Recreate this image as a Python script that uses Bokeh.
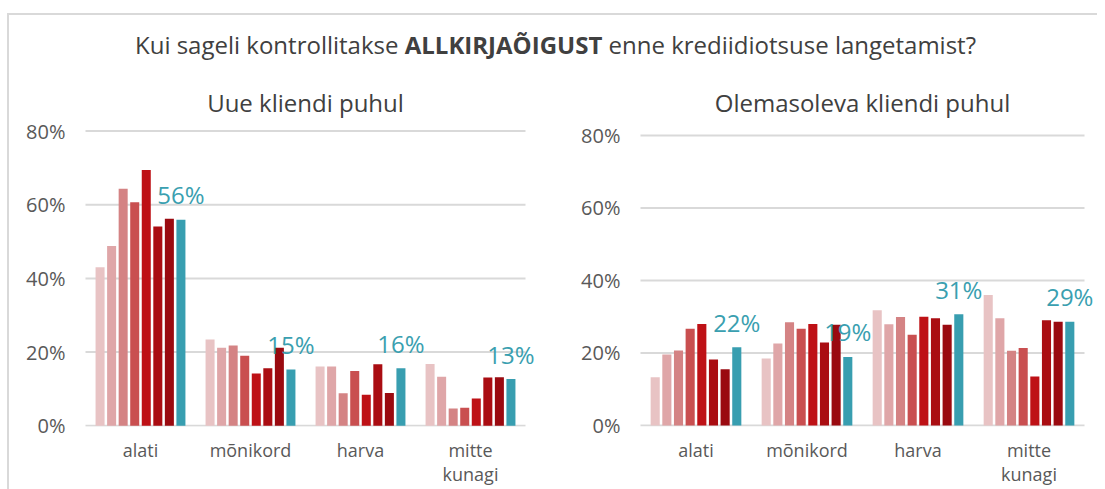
from bokeh.plotting import figure
from bokeh.models import (ColumnDataSource, Range1d, LabelSet, Div,
                          FixedTicker, PrintfTickFormatter)
from bokeh.core.properties import value
from bokeh.layouts import column, row
from bokeh.embed import file_html
from bokeh.resources import INLINE

FONT = "Open Sans"

categories = ["alati", "mõnikord", "harva", "mitte\nkunagi"]
series = ["s1", "s2", "s3", "s4", "s5", "s6", "s7", "s8"]
colors = ["#E8C3C4", "#DFA6A8", "#D48384", "#C94F50", "#BE1116", "#AA0D12", "#9A0A10", "#389EB0"]

# Uue kliendi puhul (values per category, series s1..s8)
uue_alati = [43.0, 48.8, 64.3, 60.7, 69.4, 54.1, 56.2, 55.9]
uue_monikord = [23.4, 21.2, 21.8, 19.0, 14.2, 15.6, 21.2, 15.3]
uue_harva = [16.1, 16.1, 8.8, 14.9, 8.4, 16.7, 8.9, 15.6]
uue_mitte = [16.8, 13.3, 4.7, 4.9, 7.4, 13.1, 13.2, 12.7]

# Olemasoleva kliendi puhul
ole_alati = [13.3, 19.6, 20.7, 26.7, 28.0, 18.2, 15.5, 21.6]
ole_monikord = [18.5, 22.6, 28.5, 26.7, 28.0, 22.9, 27.8, 18.9]
ole_harva = [31.8, 27.9, 29.9, 25.0, 30.0, 29.6, 27.8, 30.7]
ole_mitte = [36.0, 29.6, 20.6, 21.4, 13.5, 29.0, 28.6, 28.6]

y_ticks = [0, 20, 40, 60, 80]

HEADER_H = 50
FIG_H = 424
MB_TOP = 64
FRAME_H = 297
GRID = "#D9D9D9"


def make_chart(title, groups, width, mb_left, mb_right, x_pad, y_lo, y_hi):
    n = len(categories)
    centers = [i + 0.5 for i in range(n)]
    p = figure(x_range=Range1d(-x_pad, n + x_pad), y_range=Range1d(y_lo, y_hi),
               width=width, height=FIG_H,
               output_backend="svg", toolbar_location=None,
               min_border_left=mb_left, min_border_right=mb_right,
               min_border_top=MB_TOP, min_border_bottom=FIG_H - MB_TOP - FRAME_H,
               outline_line_color=None, background_fill_color="white",
               border_fill_color="white")

    # gridlines spanning the category area only
    p.segment(x0=[0] * len(y_ticks), x1=[n] * len(y_ticks), y0=y_ticks, y1=y_ticks,
              line_color=GRID, line_width=2)

    pitch = 0.105
    data = {}
    for i, s in enumerate(series):
        data[s] = [g[i] for g in groups]
    for i, s in enumerate(series):
        off = (i - 3.5) * pitch
        src = ColumnDataSource(dict(x=[c + off for c in centers], top=data[s]))
        p.vbar(x="x", top="top", width=0.082, source=src,
               fill_color=colors[i], line_color=None)

    last = series[-1]
    lab_src = ColumnDataSource(dict(x=[c + 3.5 * pitch for c in centers], y=data[last],
                                    txt=[f"{int(v + 0.5)}%" for v in data[last]]))
    labels = LabelSet(x="x", y="y", text="txt", source=lab_src,
                      text_align="center", text_baseline="middle",
                      y_offset=25, text_color="#3A9FB0", text_font=value(FONT),
                      text_font_size="24px")
    p.add_layout(labels)

    p.title.text = title
    p.title.align = "center"
    p.title.text_font = FONT
    p.title.text_font_size = "24px"
    p.title.text_font_style = "normal"
    p.title.text_color = "#404040"
    p.title.standoff = 21

    p.yaxis.ticker = FixedTicker(ticks=y_ticks)
    p.yaxis.formatter = PrintfTickFormatter(format="%d%%")
    p.yaxis.axis_line_color = None
    p.yaxis.major_tick_line_color = None
    p.yaxis.major_tick_out = 0
    p.yaxis.major_tick_in = 0
    p.yaxis.minor_tick_line_color = None
    p.yaxis.major_label_standoff = 8
    p.yaxis.major_label_text_font = FONT
    p.yaxis.major_label_text_font_size = "20px"
    p.yaxis.major_label_text_color = "#595959"

    p.xaxis.ticker = FixedTicker(ticks=centers)
    p.xaxis.major_label_overrides = {c: lab for c, lab in zip(centers, categories)}
    p.xaxis.axis_line_color = None
    p.xaxis.major_tick_line_color = None
    p.xaxis.major_tick_out = 0
    p.xaxis.major_tick_in = 0
    p.xaxis.minor_tick_line_color = None
    p.xaxis.major_label_standoff = 11
    p.xaxis.major_label_text_font = FONT
    p.xaxis.major_label_text_font_size = "18px"
    p.xaxis.major_label_text_line_height = 1.0
    p.xaxis.major_label_text_color = "#595959"

    p.xgrid.visible = False
    p.ygrid.visible = False
    return p


p1 = make_chart("Uue kliendi puhul", [uue_alati, uue_monikord, uue_harva, uue_mitte],
                569, 64, 41, 0.109, -0.19, 80.41)
p2 = make_chart("Olemasoleva kliendi puhul", [ole_alati, ole_monikord, ole_harva, ole_mitte],
                519, 50, 1, 0.108, -0.276, 81.655)

header_html = (
    '<div style="position:relative;width:1087px;height:%dpx;">'
    '<div style="position:absolute;left:3px;top:15px;width:1087px;text-align:center;'
    'font-family:\'Open Sans\';font-size:24px;line-height:30px;color:#404040;white-space:nowrap;">'
    'Kui sageli kontrollitakse <b>ALLKIRJAÕIGUST</b> enne krediidiotsuse langetamist?</div>'
    '</div>' % HEADER_H
)
header = Div(text=header_html, width=1087, height=HEADER_H, margin=0)

layout = column(header, row(p1, p2), margin=(13, 0, 0, 7),
                styles={"border-top": "2px solid " + GRID, "border-left": "2px solid " + GRID})

with open("out.html", "w") as f:
    f.write(file_html(layout, INLINE))
